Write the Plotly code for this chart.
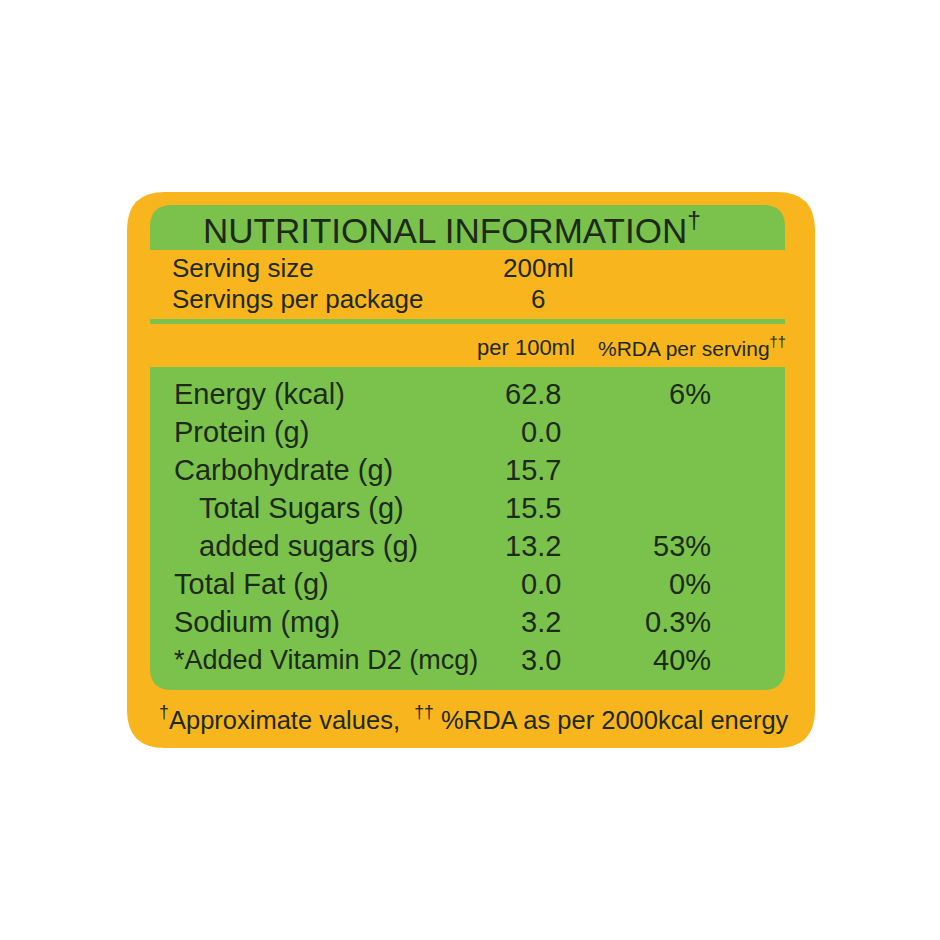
import plotly.graph_objects as go

# label data
nutrients = ['Energy (kcal)', 'Protein (g)', 'Carbohydrate (g)', '  Total Sugars (g)',
             '  added sugars (g)', 'Total Fat (g)', 'Sodium (mg)', '*Added Vitamin D2 (mcg)']
per_100ml = ['62.8', '0.0', '15.7', '15.5', '13.2', '0.0', '3.2', '3.0']
rda = ['6%', '', '', '', '53%', '0%', '0.3%', '40%']
serving_labels = ['Serving size', 'Servings per package']
serving_values = ['200ml', '6']

ORANGE = '#F9B51E'
GREEN = '#7AC24B'
INK = '#1d2a17'
FONT = 'Liberation Sans, Arial, sans-serif'


def rounded_rect(x0, y0, x1, y1, r_top, r_bot):
    # y axis is reversed: y0 is the top edge
    return (f'M{x0 + r_top},{y0} L{x1 - r_top},{y0} Q{x1},{y0} {x1},{y0 + r_top} '
            f'L{x1},{y1 - r_bot} Q{x1},{y1} {x1 - r_bot},{y1} L{x0 + r_bot},{y1} '
            f'Q{x0},{y1} {x0},{y1 - r_bot} L{x0},{y0 + r_top} Q{x0},{y0} {x0 + r_top},{y0} Z')


shapes = [
    dict(type='path', path=rounded_rect(127, 192, 815, 748, 38, 38), fillcolor=ORANGE, line_width=0),
    dict(type='path', path=rounded_rect(150, 205, 785, 250, 22, 0), fillcolor=GREEN, line_width=0),
    dict(type='rect', x0=150, x1=785, y0=319, y1=324, fillcolor=GREEN, line_width=0),
    dict(type='path', path=rounded_rect(150, 367, 785, 690, 0, 22), fillcolor=GREEN, line_width=0),
]


def txt(x, y, text, size, anchor='left'):
    return dict(x=x, y=y, text=text, xanchor=anchor, yanchor='middle', showarrow=False,
                xref='x', yref='y', font=dict(size=size, family=FONT, color=INK))


ann = [
    txt(452, 228, 'NUTRITIONAL INFORMATION<sup>†</sup>', 35, 'center'),
    txt(577, 347, 'per 100ml', 22, 'right'),
    txt(788, 347, '%RDA per serving<sup>††</sup>', 21, 'right'),
    txt(474, 718, '<sup>†</sup>Approximate values,  <sup>††</sup> %RDA as per 2000kcal energy', 25.5, 'center'),
]
for i, (lab, val) in enumerate(zip(serving_labels, serving_values)):
    y = 268 + i * 31
    ann.append(txt(170, y, lab, 26))
    ann.append(txt(538, y, val, 26, 'center'))

for i, (n, v, r) in enumerate(zip(nutrients, per_100ml, rda)):
    y = 394 + i * 38.0
    indent = n.startswith('  ')
    size = 27 if n.startswith('*') else 29
    ann.append(txt(197 if indent else 172, y, n.strip(), size))
    ann.append(txt(563, y, v, 29, 'right'))
    if r:
        ann.append(txt(713, y, r, 29, 'right'))

fig = go.Figure()
fig.update_layout(
    width=940, height=940, margin=dict(l=0, r=0, t=0, b=0),
    paper_bgcolor='white', plot_bgcolor='white',
    # offset by 8px to compensate for the page's body margin
    xaxis=dict(range=[8, 948], visible=False, fixedrange=True),
    yaxis=dict(range=[948, 8], visible=False, fixedrange=True),
    shapes=shapes, annotations=ann, showlegend=False,
)
fig.write_html('out.html')
